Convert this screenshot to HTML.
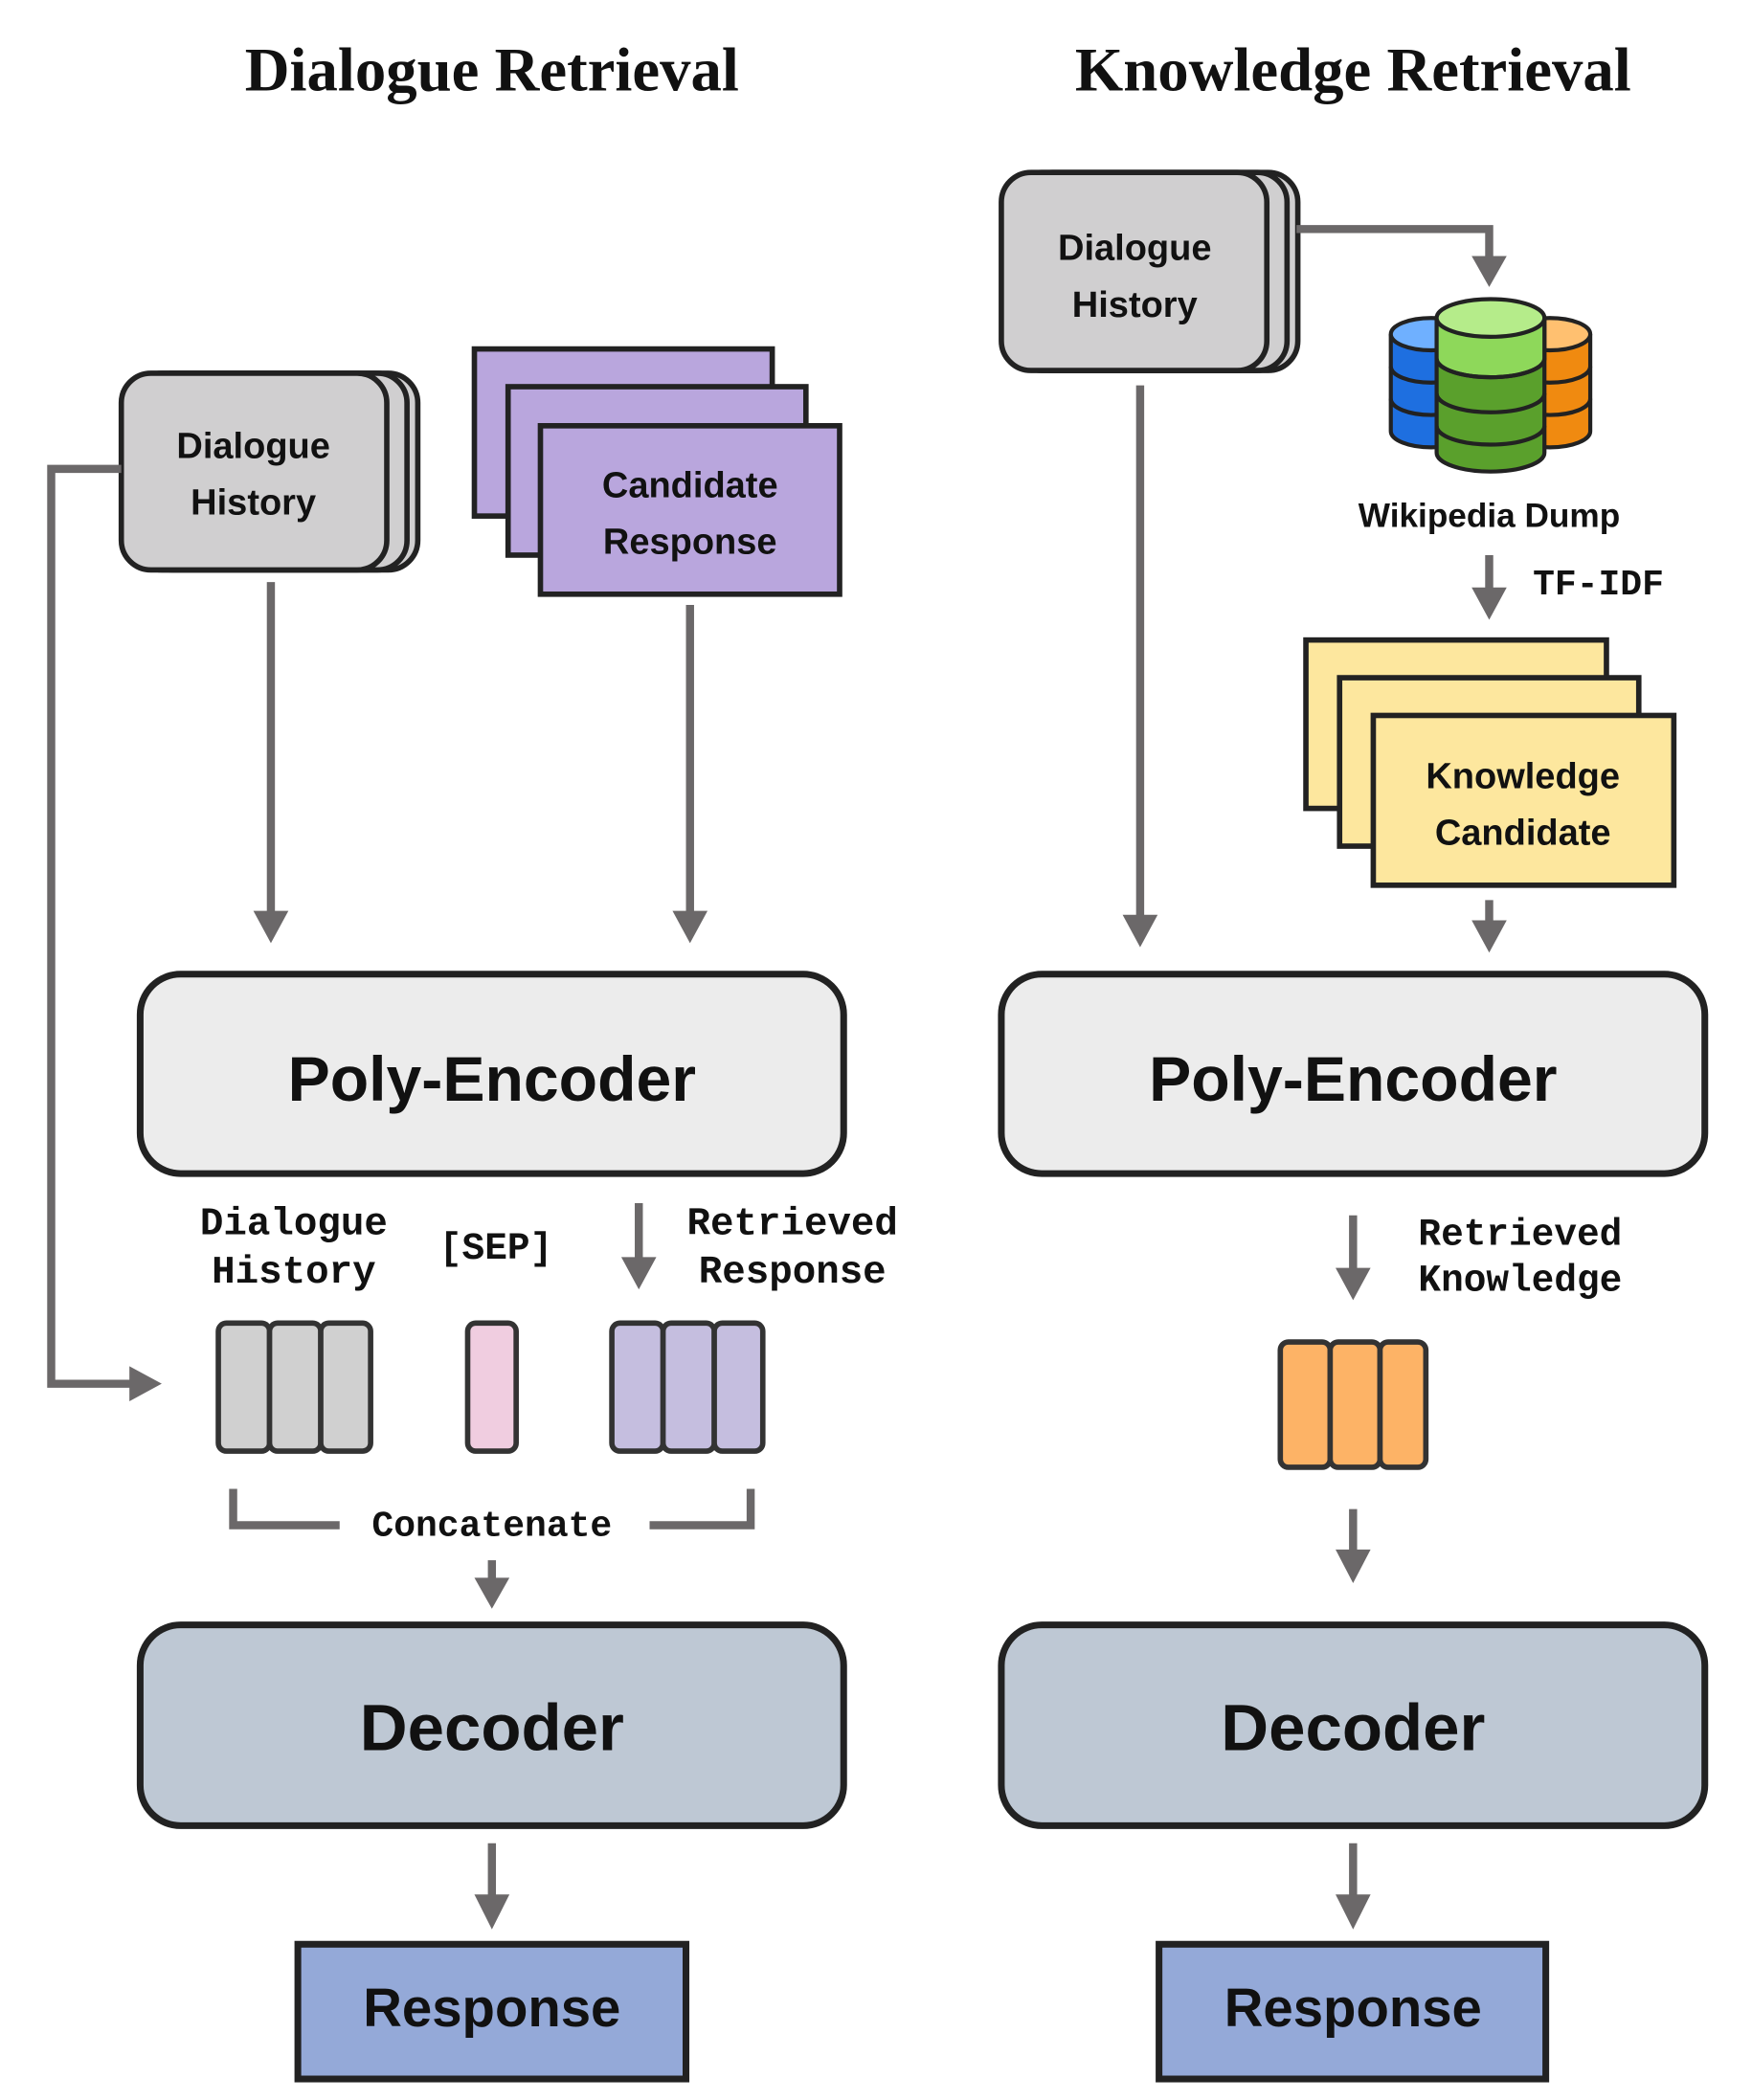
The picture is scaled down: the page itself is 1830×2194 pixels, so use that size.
<!DOCTYPE html>
<html><head><meta charset="utf-8"><style>
html,body{margin:0;padding:0;background:#fff}
svg{display:block}
.t{font-family:"Liberation Sans",sans-serif;font-weight:bold;fill:#111;text-anchor:middle}
.m{font-family:"Liberation Mono",monospace;font-weight:bold;fill:#111;text-anchor:middle}
.s{font-family:"Liberation Serif",serif;font-weight:bold;fill:#111;text-anchor:middle}
.ln{stroke:#6b6869;stroke-width:6;fill:none}
.ah{fill:#6b6869}
</style></head><body>
<svg width="1830" height="2194" viewBox="0 0 1300 1558.6" xmlns="http://www.w3.org/2000/svg">
<text class="s" x="365" y="67" font-size="46">Dialogue Retrieval</text>
<text class="s" x="1004" y="67" font-size="46">Knowledge Retrieval</text>

<rect x="106" y="277" width="204" height="146" rx="22" fill="#d0cfd0" stroke="#222" stroke-width="4"/>
<rect x="98" y="277" width="204" height="146" rx="22" fill="#d0cfd0" stroke="#222" stroke-width="4"/>
<rect x="90" y="277" width="197" height="146" rx="22" fill="#d0cfd0" stroke="#222" stroke-width="4"/>
<text class="t" x="188" y="340" font-size="27">Dialogue</text>
<text class="t" x="188" y="382" font-size="27">History</text>

<polyline class="ln" points="90,348 38,348 38,1027 100,1027"/>
<polygon class="ah" points="96,1014 120,1027 96,1040"/>

<rect x="352" y="259" width="221" height="124" fill="#b9a6dd" stroke="#222" stroke-width="4"/>
<rect x="377" y="287" width="221" height="125" fill="#b9a6dd" stroke="#222" stroke-width="4"/>
<rect x="401" y="316" width="222" height="125" fill="#b9a6dd" stroke="#222" stroke-width="4"/>
<text class="t" x="512" y="369" font-size="27">Candidate</text>
<text class="t" x="512" y="411" font-size="27">Response</text>

<line class="ln" x1="201" y1="432" x2="201" y2="680"/>
<polygon class="ah" points="188,676 214,676 201,700"/>
<line class="ln" x1="512" y1="449" x2="512" y2="680"/>
<polygon class="ah" points="499,676 525,676 512,700"/>

<rect x="104" y="723" width="522" height="148" rx="30" fill="#ececec" stroke="#222" stroke-width="5"/>
<text class="t" x="365" y="817" font-size="47">Poly-Encoder</text>

<text class="m" x="218" y="916" font-size="29">Dialogue</text>
<text class="m" x="218" y="952" font-size="29">History</text>
<text class="m" x="368" y="934" font-size="28">[SEP]</text>
<text class="m" x="588" y="916" font-size="29">Retrieved</text>
<text class="m" x="588" y="952" font-size="29">Response</text>
<line class="ln" x1="474" y1="893" x2="474" y2="937"/>
<polygon class="ah" points="461,933 487,933 474,957"/>

<g stroke="#333" stroke-width="4">
<rect x="162" y="982" width="38" height="95" rx="6" fill="#d0d0d0"/>
<rect x="200" y="982" width="38" height="95" rx="6" fill="#d0d0d0"/>
<rect x="238" y="982" width="37" height="95" rx="6" fill="#d0d0d0"/>
<rect x="347" y="982" width="36" height="95" rx="6" fill="#f0cde0"/>
<rect x="454" y="982" width="38" height="95" rx="6" fill="#c5bedf"/>
<rect x="492" y="982" width="38" height="95" rx="6" fill="#c5bedf"/>
<rect x="530" y="982" width="36" height="95" rx="6" fill="#c5bedf"/>
</g>
<polyline class="ln" points="173,1105 173,1132 252,1132"/>
<polyline class="ln" points="482,1132 557,1132 557,1105"/>
<text class="m" x="365" y="1140" font-size="27">Concatenate</text>
<line class="ln" x1="365" y1="1158" x2="365" y2="1175"/>
<polygon class="ah" points="352,1171 378,1171 365,1194"/>

<rect x="104" y="1206" width="522" height="149" rx="30" fill="#bec8d4" stroke="#222" stroke-width="5"/>
<text class="t" x="365" y="1299" font-size="49">Decoder</text>
<line class="ln" x1="365" y1="1368" x2="365" y2="1410"/>
<polygon class="ah" points="352,1406 378,1406 365,1432"/>
<rect x="221" y="1443" width="288" height="100" fill="#94a9d8" stroke="#222" stroke-width="5"/>
<text class="t" x="365" y="1504" font-size="40">Response</text>

<rect x="759" y="128" width="204" height="147" rx="22" fill="#d0cfd0" stroke="#222" stroke-width="4"/>
<rect x="751" y="128" width="204" height="147" rx="22" fill="#d0cfd0" stroke="#222" stroke-width="4"/>
<rect x="743" y="128" width="197" height="147" rx="22" fill="#d0cfd0" stroke="#222" stroke-width="4"/>
<text class="t" x="842" y="193" font-size="27">Dialogue</text>
<text class="t" x="842" y="235" font-size="27">History</text>
<polyline class="ln" points="962,170 1105,170 1105,192"/>
<polygon class="ah" points="1092,190 1118,190 1105,213"/>

<g stroke="#222" stroke-width="3">
<path d="M1032,248 v72 a30,12 0 0 0 60,0 v-72" fill="#1e6fe0"/>
<ellipse cx="1062" cy="248" rx="30" ry="12" fill="#6fb0ff"/>
<path d="M1032,272 a30,12 0 0 0 60,0 M1032,296 a30,12 0 0 0 60,0" fill="none"/>
<path d="M1120,248 v72 a30,12 0 0 0 60,0 v-72" fill="#f08a10"/>
<ellipse cx="1150" cy="248" rx="30" ry="12" fill="#ffc070"/>
<path d="M1120,272 a30,12 0 0 0 60,0 M1120,296 a30,12 0 0 0 60,0" fill="none"/>
<path d="M1066,236 v100 a40,14 0 0 0 80,0 v-100" fill="#5aa02c"/>
<path d="M1066,236 v30 a40,14 0 0 0 80,0 v-30" fill="#8ed85a"/>
<ellipse cx="1106" cy="236" rx="40" ry="14" fill="#b5ec8a"/>
<path d="M1066,266 a40,14 0 0 0 80,0 M1066,292 a40,14 0 0 0 80,0 M1066,316 a40,14 0 0 0 80,0" fill="none"/>
</g>
<text class="t" x="1105" y="391" font-size="25">Wikipedia Dump</text>
<line class="ln" x1="1105" y1="412" x2="1105" y2="440"/>
<polygon class="ah" points="1092,436 1118,436 1105,460"/>
<text class="m" x="1186" y="441" font-size="27">TF-IDF</text>

<rect x="969" y="475" width="223" height="125" fill="#fde79e" stroke="#222" stroke-width="4"/>
<rect x="994" y="503" width="222" height="125" fill="#fde79e" stroke="#222" stroke-width="4"/>
<rect x="1019" y="531" width="223" height="126" fill="#fde79e" stroke="#222" stroke-width="4"/>
<text class="t" x="1130" y="585" font-size="27">Knowledge</text>
<text class="t" x="1130" y="627" font-size="27">Candidate</text>
<line class="ln" x1="1105" y1="668" x2="1105" y2="686"/>
<polygon class="ah" points="1092,683 1118,683 1105,707"/>
<line class="ln" x1="846" y1="286" x2="846" y2="682"/>
<polygon class="ah" points="833,679 859,679 846,703"/>

<rect x="743" y="723" width="522" height="148" rx="30" fill="#ececec" stroke="#222" stroke-width="5"/>
<text class="t" x="1004" y="817" font-size="47">Poly-Encoder</text>
<line class="ln" x1="1004" y1="902" x2="1004" y2="944"/>
<polygon class="ah" points="991,941 1017,941 1004,965"/>
<text class="m" x="1128" y="924" font-size="28">Retrieved</text>
<text class="m" x="1128" y="958" font-size="28">Knowledge</text>
<g stroke="#333" stroke-width="4" fill="#fdb366">
<rect x="950" y="996" width="37" height="93" rx="6"/>
<rect x="987" y="996" width="37" height="93" rx="6"/>
<rect x="1024" y="996" width="34" height="93" rx="6"/>
</g>
<line class="ln" x1="1004" y1="1120" x2="1004" y2="1153"/>
<polygon class="ah" points="991,1150 1017,1150 1004,1175"/>

<rect x="743" y="1206" width="522" height="149" rx="30" fill="#bec8d4" stroke="#222" stroke-width="5"/>
<text class="t" x="1004" y="1299" font-size="49">Decoder</text>
<line class="ln" x1="1004" y1="1368" x2="1004" y2="1410"/>
<polygon class="ah" points="991,1406 1017,1406 1004,1432"/>
<rect x="860" y="1443" width="287" height="100" fill="#94a9d8" stroke="#222" stroke-width="5"/>
<text class="t" x="1004" y="1504" font-size="40">Response</text>
</svg>
</body></html>
